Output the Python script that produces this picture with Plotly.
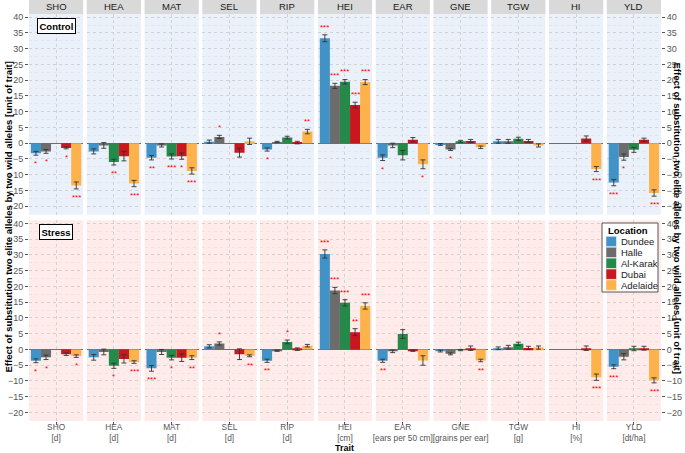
import plotly.graph_objects as go
from plotly.subplots import make_subplots

traits = ["SHO", "HEA", "MAT", "SEL", "RIP", "HEI", "EAR", "GNE", "TGW", "HI", "YLD"]
units = ["[d]", "[d]", "[d]", "[d]", "[d]", "[cm]", "[ears per 50 cm]",
         "[grains per ear]", "[g]", "[%]", "[dt/ha]"]
locations = ["Dundee", "Halle", "Al-Karak", "Dubai", "Adelaide"]
colors = ["#4192C6", "#6C6C6C", "#25894A", "#C9161F", "#FDB24B"]
conditions = ["Control", "Stress"]

# ---- Control: effect values ----
ctrl_dundee = [-3.2, -2.6, -4.6, 0.5, -2.0, 33.3, -4.6, -0.4, 0.6, None, -12.5]
ctrl_halle = [-2.6, -0.7, -0.7, 2.0, 0.4, 18.2, -0.7, -2.0, 0.6, None, -4.4]
ctrl_alkarak = [None, -6.0, -4.2, None, 1.8, 19.5, -3.8, 0.6, 1.4, None, -2.1]
ctrl_dubai = [-1.5, -4.1, -4.1, -3.0, 0.2, 12.1, 1.1, 0.7, 0.7, 1.5, 1.1]
ctrl_adelaide = [-13.4, -12.8, -8.8, 0.6, 3.7, 19.4, -6.7, -1.3, -0.7, -8.2, -15.8]
# ---- Control: standard errors ----
ctrl_dundee_se = [0.6, 0.8, 0.7, 0.5, 0.5, 1.1, 0.9, 0.3, 0.6, None, 1.0]
ctrl_halle_se = [0.6, 0.9, 0.5, 0.5, 0.2, 0.8, 0.7, 0.3, 0.6, None, 1.0]
ctrl_alkarak_se = [None, 0.9, 0.8, None, 0.4, 0.7, 1.5, 0.3, 0.5, None, 0.8]
ctrl_dubai_se = [0.3, 1.5, 1.0, 1.4, 0.4, 0.9, 0.7, 0.5, 0.5, 0.8, 0.5]
ctrl_adelaide_se = [1.1, 1.0, 1.0, 1.0, 0.7, 0.8, 1.4, 0.4, 0.5, 0.8, 1.0]
# ---- Control: significance ----
ctrl_dundee_sig = ["*", "", "**", "", "*", "***", "*", "", "", "", "***"]
ctrl_halle_sig = ["*", "", "", "*", "", "***", "", "*", "", "", "*"]
ctrl_alkarak_sig = ["", "**", "***", "", "", "***", "", "", "", "", ""]
ctrl_dubai_sig = ["*", "", "*", "", "", "***", "", "", "", "", ""]
ctrl_adelaide_sig = ["***", "***", "***", "", "**", "***", "*", "", "", "***", "***"]

# ---- Stress: effect values ----
str_dundee = [-3.6, -2.5, -6.0, 1.0, -3.6, 30.3, -3.6, -0.5, 0.4, None, -5.5]
str_halle = [-2.5, -0.8, -0.8, 1.9, -0.4, 18.7, -0.6, -1.4, 0.7, None, -2.3]
str_alkarak = [None, -5.2, -2.6, None, 2.4, 14.8, 4.9, -0.2, 1.8, None, 0.3]
str_dubai = [-1.5, -3.0, -2.6, -1.5, 0.1, 5.5, -0.4, 0.4, 0.5, 0.4, 0.4]
str_adelaide = [-2.1, -4.0, -2.6, -2.0, 1.2, 13.8, -3.5, -3.5, 0.6, -8.8, -9.8]
# ---- Stress: standard errors ----
str_dundee_se = [0.6, 0.9, 0.9, 0.5, 0.5, 1.3, 0.5, 0.3, 0.4, None, 0.6]
str_halle_se = [0.7, 0.9, 0.8, 0.5, 0.2, 1.0, 0.4, 0.3, 0.6, None, 1.0]
str_alkarak_se = [None, 0.8, 0.7, None, 0.6, 1.0, 1.4, 0.2, 0.5, None, 0.7]
str_dubai_se = [0.4, 1.3, 1.2, 1.7, 0.4, 1.1, 0.2, 0.7, 0.5, 0.7, 0.6]
str_adelaide_se = [0.4, 0.4, 0.6, 0.3, 0.4, 1.0, 1.5, 0.4, 0.5, 1.0, 0.8]
# ---- Stress: significance ----
str_dundee_sig = ["*", "", "***", "", "**", "***", "**", "", "", "", "***"]
str_halle_sig = ["*", "", "", "*", "", "***", "", "", "", "", ""]
str_alkarak_sig = ["", "*", "*", "", "*", "***", "", "", "", "", ""]
str_dubai_sig = ["", "", "", "", "", "**", "", "", "", "", ""]
str_adelaide_sig = ["*", "***", "**", "**", "", "***", "", "**", "", "***", "***"]

values = [
    [ctrl_dundee, ctrl_halle, ctrl_alkarak, ctrl_dubai, ctrl_adelaide],
    [str_dundee, str_halle, str_alkarak, str_dubai, str_adelaide],
]
errors = [
    [ctrl_dundee_se, ctrl_halle_se, ctrl_alkarak_se, ctrl_dubai_se, ctrl_adelaide_se],
    [str_dundee_se, str_halle_se, str_alkarak_se, str_dubai_se, str_adelaide_se],
]
signif = [
    [ctrl_dundee_sig, ctrl_halle_sig, ctrl_alkarak_sig, ctrl_dubai_sig, ctrl_adelaide_sig],
    [str_dundee_sig, str_halle_sig, str_alkarak_sig, str_dubai_sig, str_adelaide_sig],
]
panel_bg = ["#EBF1FA", "#FFEBE9"]

W, H = 685, 453
ML, MR, MT, MB = 29, 24, 14, 32
PW, PH = W - ML - MR, H - MT - MB
NC = len(traits)
BARGAP = 0.07
YR = [-22.7, 41.0]
FONT = "Liberation Sans, Arial, sans-serif"


def px_x(p):
    return (p - ML) / PW


def px_y(p):
    return (H - MB - p) / PH


fig = make_subplots(rows=2, cols=NC, horizontal_spacing=3.6 / PW,
                    vertical_spacing=5.5 / PH)

shapes = []
annotations = []


def axn(r, c):
    n = r * NC + c + 1
    return "" if n == 1 else str(n)


for r in range(2):
    for c in range(NC):
        n = axn(r, c)
        for k, loc in enumerate(locations):
            v = values[r][k][c]
            e = errors[r][k][c]
            fig.add_trace(
                go.Bar(
                    x=[traits[c]], y=[v], name=loc, legendgroup=loc,
                    showlegend=False,
                    marker=dict(color=colors[k], line=dict(width=0)),
                    error_y=dict(type="data", array=[e], color="#333333",
                                 thickness=0.9, width=2.5, visible=True),
                    hoverinfo="skip",
                ),
                row=r + 1, col=c + 1,
            )
            s = signif[r][k][c]
            if s and v is not None:
                slot = (1 - BARGAP) / len(locations)
                xc = -(1 - BARGAP) / 2 + (k + 0.5) * slot
                if v >= 0:
                    yy = v + (e or 0) + 2.4
                else:
                    yy = v - (e or 0) - 2.7
                annotations.append(dict(
                    x=xc, y=yy, xref="x" + n, yref="y" + n, text=s,
                    showarrow=False, font=dict(color="#FF0000", size=8, family=FONT),
                    xanchor="center", yanchor="middle"))
        # panel background
        shapes.append(dict(type="rect", xref="x%s domain" % n, yref="y%s domain" % n,
                           x0=0, x1=1, y0=0, y1=1, fillcolor=panel_bg[r],
                           line=dict(width=0), layer="below"))
        # x axis
        xa = dict(range=[-0.5, 0.5], showgrid=True, gridcolor="#D2D2D2",
                  griddash="dot", gridwidth=0.7, zeroline=False, showline=False,
                  tickvals=[traits[c]], fixedrange=True, automargin=False)
        if r == 1:
            xa.update(ticktext=[traits[c] + "<br>" + units[c]], ticks="outside",
                      ticklen=3, tickcolor="#555555", tickwidth=0.8,
                      ticklabelstandoff=-5,
                      tickfont=dict(size=8.3, color="#555555", family=FONT))
        else:
            xa.update(showticklabels=False, ticks="")
        fig.update_xaxes(xa, row=r + 1, col=c + 1)
        # y axis
        ya = dict(range=YR, tickvals=list(range(-20, 41, 5)), showgrid=True,
                  gridcolor="#D2D2D2", griddash="dot", gridwidth=0.7,
                  minor=dict(tickvals=[x + 2.5 for x in range(-25, 40, 5)],
                             showgrid=True, gridcolor="#E6E6E6", griddash="dot",
                             gridwidth=0.5),
                  zeroline=True, zerolinecolor="#6E6E6E", zerolinewidth=1,
                  showline=False, fixedrange=True, automargin=False,
                  tickfont=dict(size=9, color="#555555", family=FONT))
        if c == 0:
            ya.update(ticks="outside", ticklen=3, tickcolor="#555555", tickwidth=0.8)
        elif c == NC - 1:
            ya.update(side="right", ticks="outside", ticklen=3, tickcolor="#555555",
                      tickwidth=0.8)
        else:
            ya.update(showticklabels=False, ticks="")
        fig.update_yaxes(ya, row=r + 1, col=c + 1)

# strip headers
strip_h = 14 / PH
for c in range(NC):
    n = axn(0, c)
    shapes.append(dict(type="rect", xref="x%s domain" % n, yref="paper",
                       x0=0, x1=1, y0=1.0, y1=1.0 + strip_h, fillcolor="#D9D9D9",
                       line=dict(width=0), layer="below"))
    annotations.append(dict(x=0.5, y=1.0 + strip_h / 2, xref="x%s domain" % n,
                            yref="paper", text=traits[c], showarrow=False,
                            font=dict(size=9.5, color="#1A1A1A", family=FONT),
                            xanchor="center", yanchor="middle"))

# condition labels
for r, cond in enumerate(conditions):
    n = axn(r, 0)
    annotations.append(dict(x=0.5, y=37.3, xref="x%s domain" % n, yref="y" + n,
                            text="<b>%s</b>" % cond, showarrow=False,
                            font=dict(size=9.5, color="#000000", family=FONT),
                            bgcolor="#FFFFFF", bordercolor="#000000", borderwidth=1,
                            borderpad=1.5, xanchor="center", yanchor="middle"))

# legend (drawn manually, ggplot-style)
shapes.append(dict(type="rect", xref="paper", yref="paper",
                   x0=px_x(602), x1=px_x(658), y0=px_y(292), y1=px_y(223),
                   fillcolor="#FFFFFF", line=dict(color="#555555", width=1),
                   layer="above"))
annotations.append(dict(x=px_x(606), y=px_y(230.5), xref="paper", yref="paper",
                        text="<b>Location</b>", showarrow=False,
                        font=dict(size=9.5, color="#000000", family=FONT),
                        xanchor="left", yanchor="middle"))
for k, loc in enumerate(locations):
    yc = 241.5 + k * 10.9
    shapes.append(dict(type="rect", xref="paper", yref="paper",
                       x0=px_x(606), x1=px_x(616.5), y0=px_y(yc + 5.2),
                       y1=px_y(yc - 5.2), fillcolor=colors[k],
                       line=dict(color="#F2F2F2", width=0.6), layer="above"))
    annotations.append(dict(x=px_x(619), y=px_y(yc), xref="paper", yref="paper",
                            text=loc, showarrow=False,
                            font=dict(size=9.5, color="#1A1A1A", family=FONT),
                            xanchor="left", yanchor="middle"))

ytitle = "<b>Effect of substitution two elite alleles by two wild alleles [unit of trait]</b>"
annotations.append(dict(x=px_x(8), y=0.5, xref="paper", yref="paper",
                        text=ytitle, textangle=-90, showarrow=False,
                        font=dict(size=9.5, color="#000000", family=FONT),
                        xanchor="center", yanchor="middle"))
annotations.append(dict(x=px_x(677), y=0.5, xref="paper", yref="paper",
                        text=ytitle, textangle=90, showarrow=False,
                        font=dict(size=9.5, color="#000000", family=FONT),
                        xanchor="center", yanchor="middle"))
annotations.append(dict(x=px_x(344), y=px_y(448.2), xref="paper",
                        yref="paper", text="<b>Trait</b>", showarrow=False,
                        font=dict(size=9, color="#000000", family=FONT),
                        xanchor="center", yanchor="middle"))

fig.update_layout(
    width=W, height=H,
    margin=dict(l=ML, r=MR, t=MT, b=MB, autoexpand=False),
    paper_bgcolor="#FFFFFF", plot_bgcolor="rgba(0,0,0,0)",
    barmode="group", bargap=BARGAP, bargroupgap=0,
    font=dict(family=FONT), showlegend=False, hovermode=False,
    shapes=shapes, annotations=annotations,
)

fig.write_html("out.html", config={"displayModeBar": False},
               post_script="document.body.style.margin='0px';"
                           "document.body.style.padding='0px';")
